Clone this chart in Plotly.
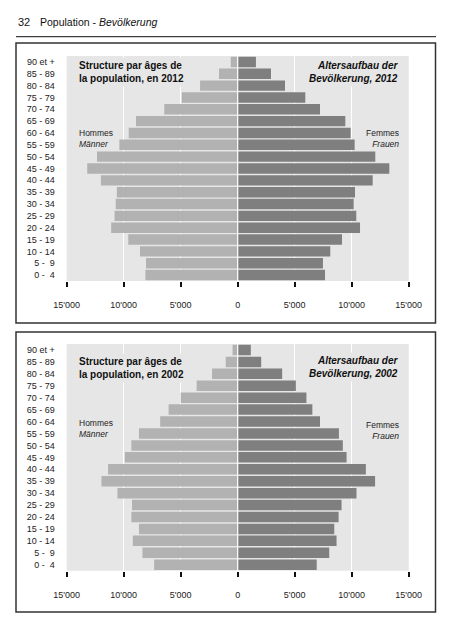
import plotly.graph_objects as go

# ---- data ----
age_groups = ["0 -  4", "5 -  9", "10 - 14", "15 - 19", "20 - 24", "25 - 29", "30 - 34",
              "35 - 39", "40 - 44", "45 - 49", "50 - 54", "55 - 59", "60 - 64", "65 - 69",
              "70 - 74", "75 - 79", "80 - 84", "85 - 89", "90 et +"]

men_2012 = [8100, 8040, 8570, 9600, 11100, 10800, 10700, 10600, 12000, 13200, 12340,
            10380, 9560, 8920, 6440, 4900, 3300, 1640, 610]
women_2012 = [7660, 7480, 8120, 9150, 10730, 10400, 10170, 10290, 11840, 13300, 12070,
              10260, 9910, 9440, 7220, 5930, 4150, 2920, 1600]

men_2002 = [7330, 8360, 9200, 8660, 9330, 9270, 10550, 11950, 11370, 9900, 9330,
            8660, 6800, 6060, 5000, 3600, 2250, 1050, 450]
women_2002 = [6930, 8030, 8670, 8470, 8850, 9110, 10420, 12050, 11240, 9550, 9220,
              8880, 7220, 6550, 6030, 5100, 3900, 2060, 1150]

tick_vals = [-15000, -10000, -5000, 0, 5000, 10000, 15000]
tick_text = ["15'000", "10'000", "5'000", "0", "5'000", "10'000", "15'000"]

FONT = "'Liberation Sans', Arial, sans-serif"
W, H = 452, 640
OFF = 8  # page body margin
BG = "#e6e6e6"
MEN_C = "#b2b2b2"
WOMEN_C = "#7f7f7f"


def px(x):
    return (x - OFF) / W


def py(y):
    return 1 - (y - OFF) / H


fig = go.Figure()

panels = [
    ("x", "y", men_2012, women_2012),
    ("x2", "y2", men_2002, women_2002),
]
for xa, ya, men, women in panels:
    fig.add_trace(go.Bar(y=age_groups, x=[-v for v in men], orientation="h",
                         marker=dict(color=MEN_C, line=dict(width=0)),
                         xaxis=xa, yaxis=ya, showlegend=False, name="Hommes"))
    fig.add_trace(go.Bar(y=age_groups, x=women, orientation="h",
                         marker=dict(color=WOMEN_C, line=dict(width=0)),
                         xaxis=xa, yaxis=ya, showlegend=False, name="Femmes"))

xdom = [px(66.7), px(408.7)]
axis_x = dict(range=[-15000, 15000], tickmode="array", tickvals=tick_vals, ticktext=tick_text,
              showgrid=True, gridcolor="white", gridwidth=1, zeroline=False,
              ticks="outside", ticklen=5, tickwidth=1.5, tickcolor="#111",
              ticklabelstandoff=10, showline=False, fixedrange=True, automargin=False,
              tickfont=dict(family=FONT, size=9, color="#222"))
axis_y = dict(type="category", categoryorder="array", categoryarray=age_groups,
              tickmode="array", tickvals=age_groups, ticktext=age_groups,
              showgrid=False, zeroline=False, ticks="", ticklabelstandoff=11,
              automargin=False,
              tickfont=dict(family=FONT, size=9, color="#222"), fixedrange=True)

fig.update_layout(
    width=W, height=H, autosize=False,
    margin=dict(l=0, r=0, t=0, b=0, autoexpand=False),
    paper_bgcolor="white", plot_bgcolor=BG,
    barmode="relative", bargap=0.12,
    font=dict(family=FONT, size=10, color="#111"),
    xaxis=dict(domain=xdom, anchor="y", **axis_x),
    yaxis=dict(domain=[py(281), py(56)], anchor="x", **axis_y),
    xaxis2=dict(domain=xdom, anchor="y2", **axis_x),
    yaxis2=dict(domain=[py(570.7), py(344)], anchor="x2", **axis_y),
)

shapes = []
# zero separator lines over the bars
for xr, yr in [("x", "y domain"), ("x2", "y2 domain")]:
    shapes.append(dict(type="line", xref=xr, yref=yr, x0=0, x1=0, y0=0, y1=1,
                       line=dict(color="white", width=1.2), layer="above"))
# panel frames
for top, bot in [(43, 323), (332, 612)]:
    shapes.append(dict(type="rect", xref="paper", yref="paper",
                       x0=px(16), x1=px(435.5), y0=py(bot), y1=py(top),
                       line=dict(color="#333", width=1.5), layer="below"))
# header rule
shapes.append(dict(type="line", xref="paper", yref="paper", x0=px(16), x1=px(436),
                   y0=py(36.7), y1=py(36.7), line=dict(color="#111", width=1)))
fig.update_layout(shapes=shapes)

ann = []
# header
ann.append(dict(text="32", x=px(15.5), y=py(22), xref="paper", yref="paper",
                xanchor="left", yanchor="middle", showarrow=False,
                font=dict(family=FONT, size=11, color="#111")))
ann.append(dict(text="Population - <i>Bevölkerung</i>", x=px(38), y=py(22),
                xref="paper", yref="paper", xanchor="left", yanchor="middle",
                showarrow=False, font=dict(family=FONT, size=10.5, color="#111")))

panel_text = [
    (2012, 71.5, 138.5, 71.5, 138.5),
    (2002, 368, 428.5, 367, 430),
]
for year, yl_title, yl_lab, yr_title, yr_lab in panel_text:
    ann.append(dict(text=f"<b>Structure par âges de<br>la population, en {year}</b>",
                    x=px(76), y=py(yl_title), xref="paper", yref="paper",
                    xanchor="left", yanchor="middle", align="left", showarrow=False,
                    bgcolor=BG, borderpad=2,
                    font=dict(family=FONT, size=10, color="#111")))
    ann.append(dict(text=f"<b><i>Altersaufbau der<br>Bevölkerung, {year}</i></b>",
                    x=px(401), y=py(yr_title), xref="paper", yref="paper",
                    xanchor="right", yanchor="middle", align="right", showarrow=False,
                    bgcolor=BG, borderpad=2,
                    font=dict(family=FONT, size=10, color="#111")))
    ann.append(dict(text="Hommes<br><i>Männer</i>", x=px(76.5), y=py(yl_lab),
                    xref="paper", yref="paper", xanchor="left", yanchor="middle",
                    align="left", showarrow=False,
                    font=dict(family=FONT, size=8.5, color="#222")))
    ann.append(dict(text="Femmes<br><i>Frauen</i>", x=px(401), y=py(yr_lab),
                    xref="paper", yref="paper", xanchor="right", yanchor="middle",
                    align="right", showarrow=False,
                    font=dict(family=FONT, size=8.5, color="#222")))
fig.update_layout(annotations=ann)

fig.write_html("out.html")
